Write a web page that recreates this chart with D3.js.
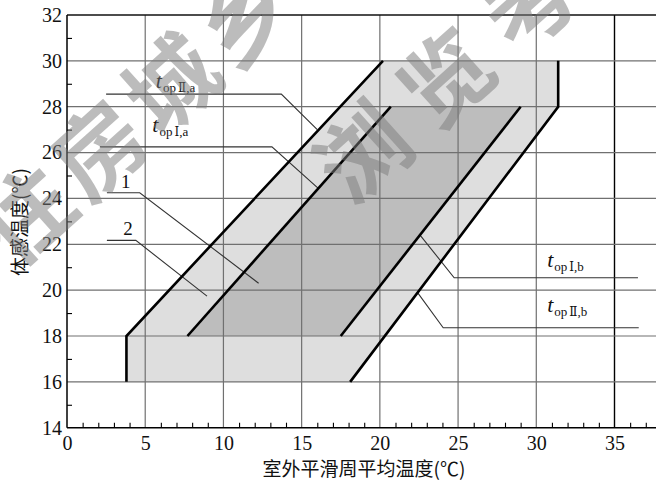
<!DOCTYPE html>
<html>
<head>
<meta charset="utf-8">
<script src="https://cdn.jsdelivr.net/npm/d3@7"></script>
<style>
  html, body { margin: 0; padding: 0; background: #fff; }
  svg { display: block; }
</style>
</head>
<body>
<svg id="chart" width="656" height="482"></svg>
<script>
// Tick values
const xMajorTicks = [0, 5, 10, 15, 20, 25, 30, 35];
const yMajorTicks = [14, 16, 18, 20, 22, 24, 26, 28, 30, 32];

// Comfort zones: [outdoor running mean temperature, operative temperature]
const zoneII = [[3.8, 16], [3.8, 18], [20.2, 30], [31.4, 30], [31.4, 28], [18.1, 16]];
const zoneI = [[7.7, 18], [20.7, 28], [29.0, 28], [17.5, 18]];

// Zone boundary lines
const upperII = [[3.8, 16], [3.8, 18], [20.2, 30]];
const upperI = [[7.7, 18], [20.7, 28]];
const lowerI = [[17.5, 18], [29.0, 28]];
const lowerII = [[18.1, 16], [31.4, 28], [31.4, 30]];

// Leader lines for the labels
const leaders = [
  [[2.5, 28.55], [13.7, 28.55], [16.0, 27.0]],
  [[2.1, 26.25], [13.1, 26.25], [16.1, 24.42]],
  [[2.55, 24.25], [4.65, 24.25], [12.25, 20.3]],
  [[2.55, 22.17], [4.4, 22.17], [8.95, 19.74]],
  [[22.57, 22.4], [24.75, 20.54], [36.5, 20.54]],
  [[22.4, 19.9], [24.05, 18.36], [36.55, 18.36]]
];

// Curve labels: italic t with subscript
const curveLabels = [
  { x: 5.68, y: 28.8, sub: ["op", "Ⅱ", ",a"] },
  { x: 5.45, y: 26.9, sub: ["op", "Ⅰ", ",a"] },
  { x: 30.7, y: 21.0, sub: ["op", "Ⅰ", ",b"] },
  { x: 30.7, y: 19.04, sub: ["op", "Ⅱ", ",b"] }
];
const zoneLabels = [
  { x: 3.75, y: 24.45, text: "1" },
  { x: 3.9, y: 22.4, text: "2" }
];

// Background stamp text
const stampLines = [
  { text: "住房城乡", cx: 15, cy: 270, spacing: 8 },
  { text: "浏览考", cx: 352, cy: 208, spacing: 22 }
];

const svg = d3.select("#chart");
const W = 656, H = 482;
const serif = "'Liberation Serif', 'DejaVu Serif', serif";
const cjk = "'Noto Sans CJK SC', 'Noto Sans', sans-serif";

const x = d3.scaleLinear().domain([0, 35]).range([67, 614.5]);
const y = d3.scaleLinear().domain([14, 32]).range([427.7, 15]);
const xMax = x.invert(W);

const line = d3.line().x(d => x(d[0])).y(d => y(d[1]));

// Zone fills
svg.append("path")
  .attr("d", line(zoneII) + "Z")
  .attr("fill", "#dedede");
svg.append("path")
  .attr("d", line(zoneI) + "Z")
  .attr("fill", "#bdbdbd");

// Grid
const grid = svg.append("g");
xMajorTicks.filter(v => v > 0).forEach(v => {
  grid.append("line")
    .attr("x1", x(v)).attr("x2", x(v))
    .attr("y1", y(32)).attr("y2", y(14))
    .attr("stroke", v === 35 ? "#000" : "#707070")
    .attr("stroke-width", v === 35 ? 1.4 : 1.2);
});
yMajorTicks.filter(v => v > 14 && v < 32).forEach(v => {
  grid.append("line")
    .attr("x1", x(0)).attr("x2", W)
    .attr("y1", y(v)).attr("y2", y(v))
    .attr("stroke", "#707070")
    .attr("stroke-width", 1.2);
});
// Top frame
grid.append("line")
  .attr("x1", x(0)).attr("x2", W)
  .attr("y1", y(32)).attr("y2", y(32))
  .attr("stroke", "#111").attr("stroke-width", 1.4);

// Leader lines
svg.append("g").selectAll("path")
  .data(leaders)
  .join("path")
  .attr("d", d => line(d))
  .attr("fill", "none")
  .attr("stroke", "#333")
  .attr("stroke-width", 1.1);

// Boundary lines
svg.append("g").selectAll("path")
  .data([upperII, upperI, lowerI, lowerII])
  .join("path")
  .attr("d", d => line(d))
  .attr("fill", "none")
  .attr("stroke", "#000")
  .attr("stroke-width", 2.6)
  .attr("stroke-linejoin", "miter");

// Axes
const xAxis = d3.axisBottom(x)
  .tickValues(d3.range(0, Math.floor(xMax) + 1))
  .tickSize(-5)
  .tickFormat(d => xMajorTicks.includes(d) ? d : "");
const gx = svg.append("g")
  .attr("transform", `translate(0,${y(14)})`)
  .call(xAxis);
gx.select(".domain").attr("d", `M${x(0)},0H${W}`).attr("stroke", "#000").attr("stroke-width", 1.5);
gx.selectAll(".tick line").attr("stroke", "#000").attr("stroke-width", 1.1);
gx.selectAll(".tick text")
  .attr("y", 8).attr("dy", "0.71em")
  .attr("font-family", serif).attr("font-size", 20).attr("fill", "#111");

const yAxis = d3.axisLeft(y)
  .tickValues(d3.range(14, 33))
  .tickSize(-5)
  .tickFormat(d => yMajorTicks.includes(d) ? d : "");
const gy = svg.append("g")
  .attr("transform", `translate(${x(0)},0)`)
  .call(yAxis);
gy.select(".domain").attr("d", `M0,${y(32)}V${y(14)}`).attr("stroke", "#000").attr("stroke-width", 1.5);
gy.selectAll(".tick line").attr("stroke", "#000").attr("stroke-width", 1.1);
gy.selectAll(".tick").filter(d => yMajorTicks.includes(d)).select("line").remove();
gx.selectAll(".tick").filter(d => xMajorTicks.includes(d)).select("line").remove();
gy.selectAll(".tick text")
  .attr("x", -5)
  .attr("font-family", serif).attr("font-size", 20).attr("fill", "#111");

// Axis titles
svg.append("text")
  .attr("x", 364).attr("y", 476)
  .attr("text-anchor", "middle")
  .attr("font-family", cjk).attr("font-size", 19).attr("fill", "#111")
  .text("室外平滑周平均温度(℃)");
svg.append("text")
  .attr("transform", "translate(27,222) rotate(-90)")
  .attr("text-anchor", "middle")
  .attr("font-family", cjk).attr("font-size", 19).attr("fill", "#111")
  .text("体感温度(℃)");

// Curve labels
const cl = svg.append("g").selectAll("text")
  .data(curveLabels)
  .join("text")
  .attr("x", d => x(d.x)).attr("y", d => y(d.y))
  .attr("fill", "#111");
cl.append("tspan")
  .attr("font-family", serif).attr("font-style", "italic").attr("font-size", 22)
  .text("t");
cl.append("tspan")
  .attr("dy", 4).attr("dx", 1)
  .attr("font-family", serif).attr("font-size", 13)
  .text(d => d.sub[0]);
cl.append("tspan")
  .attr("dx", 2)
  .attr("font-family", serif).attr("font-size", 12)
  .text(d => d.sub[1]);
cl.append("tspan")
  .attr("font-family", serif).attr("font-size", 13)
  .text(d => d.sub[2]);

svg.append("g").selectAll("text")
  .data(zoneLabels)
  .join("text")
  .attr("x", d => x(d.x)).attr("y", d => y(d.y))
  .attr("text-anchor", "middle")
  .attr("font-family", serif).attr("font-size", 19).attr("fill", "#111")
  .text(d => d.text);

// Stamp overlay
svg.append("g").attr("pointer-events", "none").attr("opacity", 0.5)
  .selectAll("text")
  .data(stampLines)
  .join("text")
  .attr("transform", d => `translate(${d.cx},${d.cy}) rotate(-42)`)
  .attr("font-family", cjk).attr("font-size", 90).attr("font-weight", 700)
  .attr("fill", "#7c7c7c")
  .attr("letter-spacing", d => d.spacing)
  .text(d => d.text);
</script>
</body>
</html>
